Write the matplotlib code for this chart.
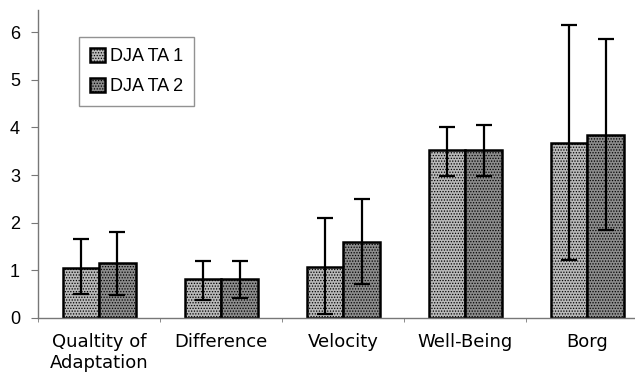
import matplotlib.pyplot as plt
import numpy as np

plt.rcParams['font.family'] = ['Liberation Sans', 'DejaVu Sans']
plt.rcParams['hatch.linewidth'] = 0.6

categories = ["Qualtity of\nAdaptation", "Difference", "Velocity", "Well-Being", "Borg"]
series_names = ["DJA TA 1", "DJA TA 2"]

mean_1 = [1.05, 0.82, 1.07, 3.52, 3.67]
low_1 = [0.50, 0.38, 0.08, 2.98, 1.22]
high_1 = [1.66, 1.20, 2.10, 4.00, 6.15]

mean_2 = [1.15, 0.82, 1.60, 3.52, 3.85]
low_2 = [0.48, 0.43, 0.71, 2.98, 1.85]
high_2 = [1.80, 1.20, 2.50, 4.05, 5.85]

fig = plt.figure(figsize=(6.35, 3.75), dpi=100)
ax = fig.add_axes([0.06, 0.152, 0.94, 0.821])

x = np.arange(len(categories))
w = 0.3

for off, mean, low, high, fc, name in [
    (-w / 2, mean_1, low_1, high_1, "#b9b9b9", series_names[0]),
    (w / 2, mean_2, low_2, high_2, "#8c8c8c", series_names[1]),
]:
    mean = np.array(mean)
    yerr = [mean - np.array(low), np.array(high) - mean]
    ax.bar(x + off, mean, w, facecolor=fc, edgecolor="black", linewidth=1.8,
           hatch="......", label=name, zorder=2)
    ax.errorbar(x + off, mean, yerr=yerr, fmt="none", ecolor="black",
                elinewidth=1.6, capsize=6, capthick=1.6, zorder=3)

ax.set_xlim(-0.5, 4.39)
ax.set_ylim(0, 6.46)
ax.set_yticks(range(7))
ax.set_xticks(x)
ax.set_xticklabels(categories, fontsize=13, family=["DejaVu Sans"])
ax.set_xticks(np.arange(-0.5, 4.5, 1), minor=True)
ax.tick_params(axis="x", which="major", length=0, pad=11)
ax.tick_params(axis="x", which="minor", length=3, color="#777777")
ax.tick_params(axis="y", labelsize=13, length=5, color="#777777", pad=8)
for lbl in ax.get_xticklabels():
    lbl.set_linespacing(1.2)

for side in ["top", "right"]:
    ax.spines[side].set_visible(False)
for side in ["left", "bottom"]:
    ax.spines[side].set_color("#777777")
    ax.spines[side].set_linewidth(1.0)

leg = ax.legend(loc="upper left", bbox_to_anchor=(0.069, 0.912), borderaxespad=0,
                fontsize=13, frameon=True, fancybox=False, edgecolor="#777777",
                handlelength=0.8, handleheight=0.8, handletextpad=0.3,
                borderpad=0.6, labelspacing=0.7)
leg.get_frame().set_linewidth(1.0)

fig.savefig("out.png", dpi=100)
